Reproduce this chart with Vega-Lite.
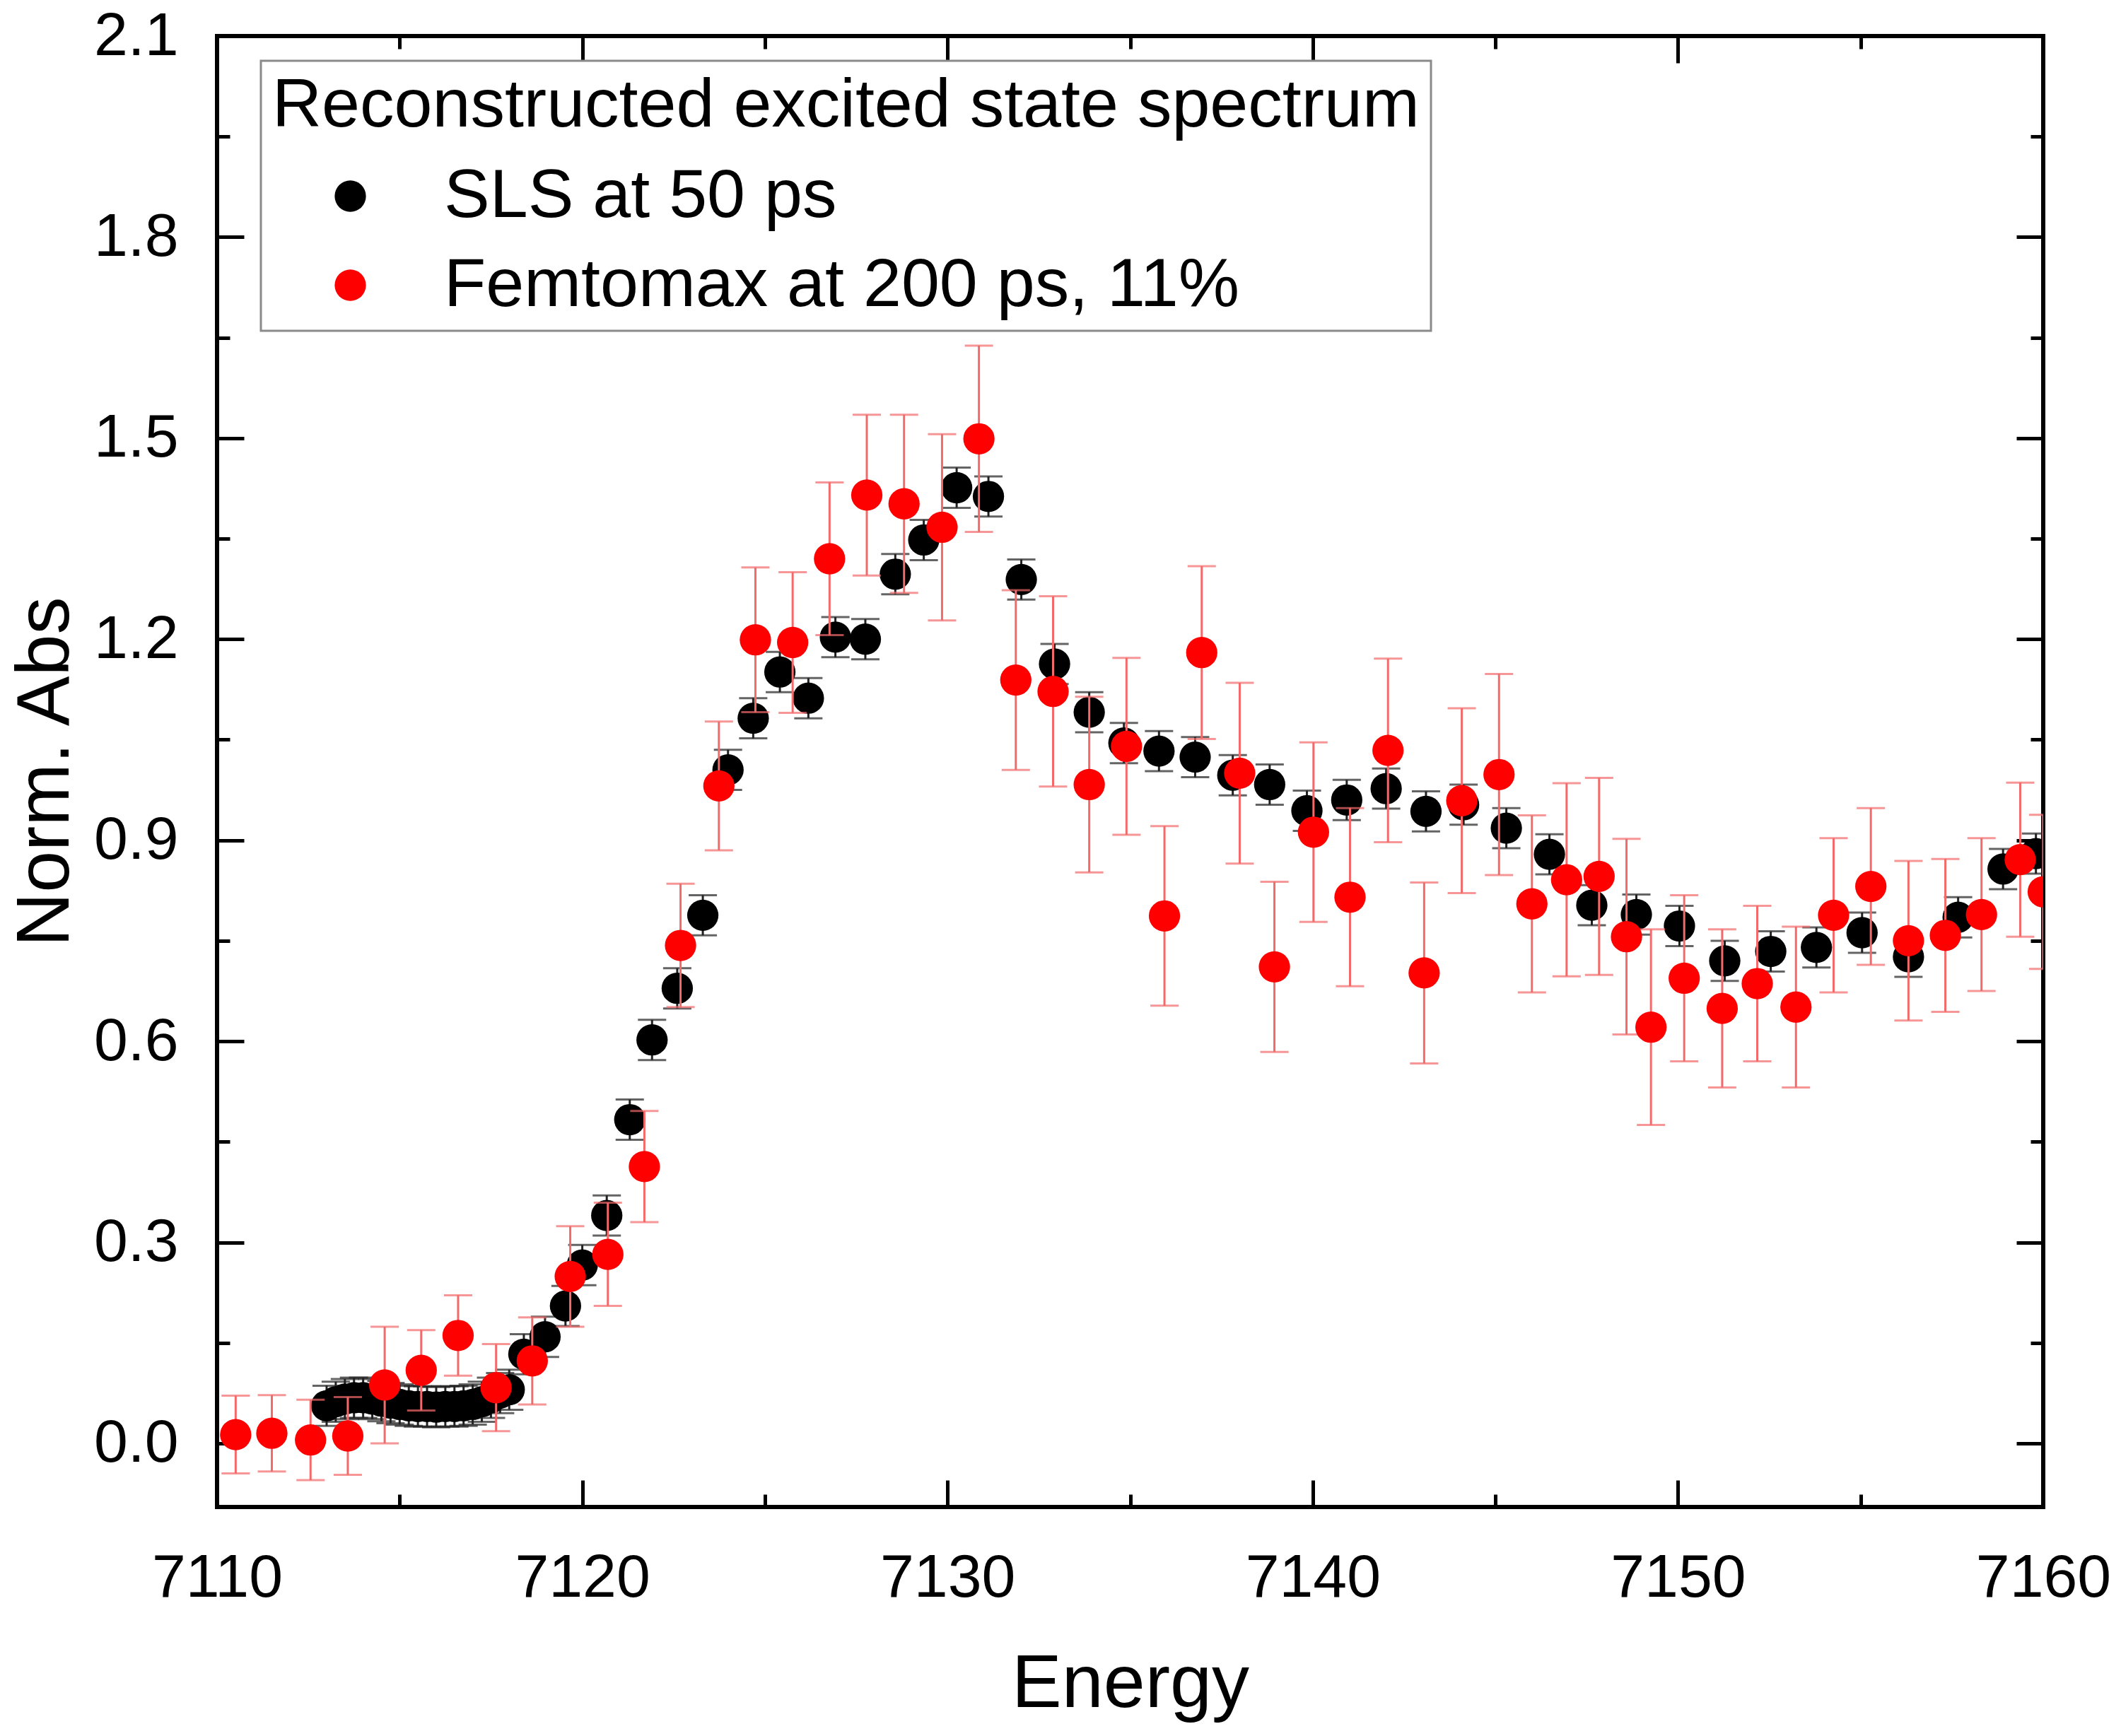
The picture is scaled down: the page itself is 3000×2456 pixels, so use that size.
{
  "$schema": "https://vega.github.io/schema/vega-lite/v6.json",
  "width": 2583,
  "height": 2081,
  "autosize": {"type": "none"},
  "padding": {"left": 307, "top": 51, "right": 110, "bottom": 324},
  "background": "white",
  "datasets": {
    "sls": [
      {"E": 7113.0, "A": 0.056, "lo": 0.026, "hi": 0.086},
      {"E": 7113.25, "A": 0.062, "lo": 0.032, "hi": 0.092},
      {"E": 7113.5, "A": 0.066, "lo": 0.036, "hi": 0.096},
      {"E": 7113.75, "A": 0.068, "lo": 0.038, "hi": 0.098},
      {"E": 7114.0, "A": 0.068, "lo": 0.038, "hi": 0.098},
      {"E": 7114.25, "A": 0.066, "lo": 0.036, "hi": 0.096},
      {"E": 7114.5, "A": 0.063, "lo": 0.033, "hi": 0.093},
      {"E": 7114.75, "A": 0.06, "lo": 0.03, "hi": 0.09},
      {"E": 7115.0, "A": 0.058, "lo": 0.028, "hi": 0.088},
      {"E": 7115.25, "A": 0.056, "lo": 0.026, "hi": 0.086},
      {"E": 7115.5, "A": 0.055, "lo": 0.025, "hi": 0.085},
      {"E": 7115.75, "A": 0.055, "lo": 0.025, "hi": 0.085},
      {"E": 7116.0, "A": 0.054, "lo": 0.024, "hi": 0.084},
      {"E": 7116.25, "A": 0.055, "lo": 0.025, "hi": 0.085},
      {"E": 7116.5, "A": 0.055, "lo": 0.025, "hi": 0.085},
      {"E": 7116.75, "A": 0.056, "lo": 0.026, "hi": 0.086},
      {"E": 7117.0, "A": 0.058, "lo": 0.028, "hi": 0.088},
      {"E": 7117.25, "A": 0.062, "lo": 0.032, "hi": 0.092},
      {"E": 7117.5, "A": 0.068, "lo": 0.038, "hi": 0.098},
      {"E": 7117.75, "A": 0.075, "lo": 0.045, "hi": 0.105},
      {"E": 7118.0, "A": 0.08, "lo": 0.05, "hi": 0.11},
      {"E": 7118.4, "A": 0.133, "lo": 0.103, "hi": 0.163},
      {"E": 7118.98, "A": 0.159, "lo": 0.129, "hi": 0.189},
      {"E": 7119.54, "A": 0.205, "lo": 0.175, "hi": 0.235},
      {"E": 7120.0, "A": 0.266, "lo": 0.236, "hi": 0.296},
      {"E": 7120.67, "A": 0.34, "lo": 0.31, "hi": 0.37},
      {"E": 7121.3, "A": 0.483, "lo": 0.453, "hi": 0.513},
      {"E": 7121.91, "A": 0.602, "lo": 0.572, "hi": 0.632},
      {"E": 7122.6, "A": 0.679, "lo": 0.649, "hi": 0.709},
      {"E": 7123.3, "A": 0.788, "lo": 0.758, "hi": 0.818},
      {"E": 7123.99, "A": 1.005, "lo": 0.975, "hi": 1.035},
      {"E": 7124.68, "A": 1.082, "lo": 1.052, "hi": 1.112},
      {"E": 7125.41, "A": 1.151, "lo": 1.121, "hi": 1.181},
      {"E": 7126.19, "A": 1.112, "lo": 1.082, "hi": 1.142},
      {"E": 7126.93, "A": 1.203, "lo": 1.173, "hi": 1.233},
      {"E": 7127.75, "A": 1.2, "lo": 1.17, "hi": 1.23},
      {"E": 7128.57, "A": 1.297, "lo": 1.267, "hi": 1.327},
      {"E": 7129.35, "A": 1.348, "lo": 1.318, "hi": 1.378},
      {"E": 7130.25, "A": 1.426, "lo": 1.396, "hi": 1.456},
      {"E": 7131.12, "A": 1.413, "lo": 1.383, "hi": 1.443},
      {"E": 7132.02, "A": 1.289, "lo": 1.259, "hi": 1.319},
      {"E": 7132.93, "A": 1.163, "lo": 1.133, "hi": 1.193},
      {"E": 7133.88, "A": 1.091, "lo": 1.061, "hi": 1.121},
      {"E": 7134.83, "A": 1.045, "lo": 1.015, "hi": 1.075},
      {"E": 7135.79, "A": 1.033, "lo": 1.003, "hi": 1.063},
      {"E": 7136.78, "A": 1.024, "lo": 0.994, "hi": 1.054},
      {"E": 7137.81, "A": 0.997, "lo": 0.967, "hi": 1.027},
      {"E": 7138.82, "A": 0.983, "lo": 0.953, "hi": 1.013},
      {"E": 7139.84, "A": 0.944, "lo": 0.914, "hi": 0.974},
      {"E": 7140.93, "A": 0.96, "lo": 0.93, "hi": 0.99},
      {"E": 7142.01, "A": 0.977, "lo": 0.947, "hi": 1.007},
      {"E": 7143.1, "A": 0.943, "lo": 0.913, "hi": 0.973},
      {"E": 7144.13, "A": 0.953, "lo": 0.923, "hi": 0.983},
      {"E": 7145.3, "A": 0.918, "lo": 0.888, "hi": 0.948},
      {"E": 7146.48, "A": 0.879, "lo": 0.849, "hi": 0.909},
      {"E": 7147.64, "A": 0.803, "lo": 0.773, "hi": 0.833},
      {"E": 7148.86, "A": 0.789, "lo": 0.759, "hi": 0.819},
      {"E": 7150.04, "A": 0.772, "lo": 0.742, "hi": 0.802},
      {"E": 7151.28, "A": 0.72, "lo": 0.69, "hi": 0.75},
      {"E": 7152.54, "A": 0.734, "lo": 0.704, "hi": 0.764},
      {"E": 7153.79, "A": 0.74, "lo": 0.71, "hi": 0.77},
      {"E": 7155.04, "A": 0.762, "lo": 0.732, "hi": 0.792},
      {"E": 7156.31, "A": 0.726, "lo": 0.696, "hi": 0.756},
      {"E": 7157.67, "A": 0.785, "lo": 0.755, "hi": 0.815},
      {"E": 7158.9, "A": 0.857, "lo": 0.827, "hi": 0.887},
      {"E": 7159.8, "A": 0.88, "lo": 0.85, "hi": 0.91}
    ],
    "femto": [
      {"E": 7110.51, "A": 0.013, "lo": -0.045, "hi": 0.071},
      {"E": 7111.5, "A": 0.015, "lo": -0.042, "hi": 0.072},
      {"E": 7112.56, "A": 0.005, "lo": -0.055, "hi": 0.065},
      {"E": 7113.58, "A": 0.011, "lo": -0.047, "hi": 0.069},
      {"E": 7114.59, "A": 0.087, "lo": 0.0, "hi": 0.174},
      {"E": 7115.59, "A": 0.109, "lo": 0.049, "hi": 0.169},
      {"E": 7116.6, "A": 0.161, "lo": 0.101, "hi": 0.221},
      {"E": 7117.64, "A": 0.083, "lo": 0.018, "hi": 0.148},
      {"E": 7118.63, "A": 0.123, "lo": 0.058, "hi": 0.188},
      {"E": 7119.67, "A": 0.249, "lo": 0.174, "hi": 0.324},
      {"E": 7120.7, "A": 0.282, "lo": 0.205, "hi": 0.359},
      {"E": 7121.7, "A": 0.413, "lo": 0.33, "hi": 0.496},
      {"E": 7122.69, "A": 0.743, "lo": 0.651, "hi": 0.835},
      {"E": 7123.74, "A": 0.981, "lo": 0.885, "hi": 1.077},
      {"E": 7124.74, "A": 1.199, "lo": 1.091, "hi": 1.307},
      {"E": 7125.76, "A": 1.195, "lo": 1.09, "hi": 1.3},
      {"E": 7126.77, "A": 1.32, "lo": 1.206, "hi": 1.434},
      {"E": 7127.79, "A": 1.415, "lo": 1.295, "hi": 1.535},
      {"E": 7128.81, "A": 1.402, "lo": 1.269, "hi": 1.535},
      {"E": 7129.85, "A": 1.367, "lo": 1.228, "hi": 1.506},
      {"E": 7130.86, "A": 1.499, "lo": 1.36, "hi": 1.638},
      {"E": 7131.87, "A": 1.139, "lo": 1.005, "hi": 1.273},
      {"E": 7132.89, "A": 1.122, "lo": 0.98, "hi": 1.264},
      {"E": 7133.88, "A": 0.983, "lo": 0.852, "hi": 1.114},
      {"E": 7134.9, "A": 1.04, "lo": 0.908, "hi": 1.172},
      {"E": 7135.94, "A": 0.787, "lo": 0.653, "hi": 0.921},
      {"E": 7136.96, "A": 1.18, "lo": 1.051, "hi": 1.309},
      {"E": 7138.0, "A": 1.0, "lo": 0.865, "hi": 1.135},
      {"E": 7138.95, "A": 0.711, "lo": 0.584, "hi": 0.838},
      {"E": 7140.02, "A": 0.912, "lo": 0.778, "hi": 1.046},
      {"E": 7141.02, "A": 0.815, "lo": 0.682, "hi": 0.948},
      {"E": 7142.06, "A": 1.034, "lo": 0.897, "hi": 1.171},
      {"E": 7143.05, "A": 0.702, "lo": 0.567, "hi": 0.837},
      {"E": 7144.08, "A": 0.959, "lo": 0.821, "hi": 1.097},
      {"E": 7145.1, "A": 0.998, "lo": 0.848, "hi": 1.148},
      {"E": 7146.0, "A": 0.805, "lo": 0.673, "hi": 0.937},
      {"E": 7146.95, "A": 0.841, "lo": 0.697, "hi": 0.985},
      {"E": 7147.84, "A": 0.846, "lo": 0.699, "hi": 0.993},
      {"E": 7148.59, "A": 0.756, "lo": 0.61, "hi": 0.902},
      {"E": 7149.26, "A": 0.621, "lo": 0.475, "hi": 0.767},
      {"E": 7150.17, "A": 0.694, "lo": 0.57, "hi": 0.818},
      {"E": 7151.21, "A": 0.649, "lo": 0.531, "hi": 0.767},
      {"E": 7152.17, "A": 0.686, "lo": 0.57, "hi": 0.802},
      {"E": 7153.23, "A": 0.651, "lo": 0.531, "hi": 0.771},
      {"E": 7154.26, "A": 0.788, "lo": 0.673, "hi": 0.903},
      {"E": 7155.28, "A": 0.831, "lo": 0.714, "hi": 0.948},
      {"E": 7156.31, "A": 0.75, "lo": 0.631, "hi": 0.869},
      {"E": 7157.32, "A": 0.758, "lo": 0.644, "hi": 0.872},
      {"E": 7158.31, "A": 0.789, "lo": 0.675, "hi": 0.903},
      {"E": 7159.37, "A": 0.871, "lo": 0.756, "hi": 0.986},
      {"E": 7160.0, "A": 0.823, "lo": 0.708, "hi": 0.938}
    ]
  },
  "layer": [
    {
      "data": {"name": "sls"},
      "mark": {"type": "rule", "color": "#222222", "strokeWidth": 3, "clip": true},
      "encoding": {
        "x": {
          "field": "E", "type": "quantitative",
          "scale": {"domain": [7110, 7160], "nice": false, "zero": false},
          "axis": {
            "orient": "bottom", "values": [7110, 7120, 7130, 7140, 7150, 7160],
            "format": "d", "ticks": false, "labelPadding": 58, "labelFlush": false,
            "labelOverlap": false, "labelLimit": 1000, "title": "Energy", "titlePadding": 55
          }
        },
        "y": {
          "field": "lo", "type": "quantitative",
          "scale": {"domain": [-0.095, 2.1], "nice": false, "zero": false},
          "axis": {
            "orient": "left", "values": [0, 0.3, 0.6, 0.9, 1.2, 1.5, 1.8, 2.1],
            "format": ".1f", "ticks": false, "labelPadding": 55, "labelFlush": false,
            "labelOverlap": false, "labelLimit": 1000, "title": "Norm. Abs", "titlePadding": 14
          }
        },
        "y2": {"field": "hi"}
      }
    },
    {
      "data": {"name": "sls"},
      "mark": {"type": "tick", "orient": "horizontal", "size": 40, "thickness": 3, "color": "#222222", "clip": true},
      "encoding": {
        "x": {
          "field": "E", "type": "quantitative",
          "axis": {"orient": "bottom", "values": [7110, 7120, 7130, 7140, 7150, 7160], "labels": false, "tickSize": -38, "title": null}
        },
        "y": {
          "field": "lo", "type": "quantitative",
          "axis": {"orient": "left", "values": [0, 0.3, 0.6, 0.9, 1.2, 1.5, 1.8, 2.1], "labels": false, "tickSize": -38, "title": null}
        }
      }
    },
    {
      "data": {"name": "sls"},
      "mark": {"type": "tick", "orient": "horizontal", "size": 40, "thickness": 3, "color": "#222222", "clip": true},
      "encoding": {
        "x": {
          "field": "E", "type": "quantitative",
          "axis": {"orient": "bottom", "values": [7115, 7125, 7135, 7145, 7155], "labels": false, "tickSize": -18, "title": null}
        },
        "y": {
          "field": "hi", "type": "quantitative",
          "axis": {"orient": "left", "values": [0.15, 0.45, 0.75, 1.05, 1.35, 1.65, 1.95], "labels": false, "tickSize": -18, "title": null}
        }
      }
    },
    {
      "data": {"name": "sls"},
      "mark": {"type": "circle", "size": 1960, "opacity": 1, "clip": true},
      "encoding": {
        "x": {
          "field": "E", "type": "quantitative",
          "axis": {"orient": "top", "values": [7110, 7120, 7130, 7140, 7150, 7160], "labels": false, "tickSize": -38, "title": null}
        },
        "y": {
          "field": "A", "type": "quantitative",
          "axis": {"orient": "right", "values": [0, 0.3, 0.6, 0.9, 1.2, 1.5, 1.8, 2.1], "labels": false, "tickSize": -38, "title": null}
        },
        "color": {
          "datum": "SLS at 50 ps", "type": "nominal",
          "scale": {"domain": ["SLS at 50 ps", "Femtomax at 200 ps, 11%"], "range": ["#000000", "#ff0000"]},
          "title": "Reconstructed excited state spectrum",
          "legend": {"orient": "none", "legendX": 62, "legendY": 35}
        }
      }
    },
    {
      "data": {"name": "femto"},
      "mark": {"type": "rule", "color": "#f26a6a", "strokeWidth": 3, "clip": true},
      "encoding": {
        "x": {
          "field": "E", "type": "quantitative",
          "axis": {"orient": "top", "values": [7115, 7125, 7135, 7145, 7155], "labels": false, "tickSize": -18, "title": null}
        },
        "y": {
          "field": "lo", "type": "quantitative",
          "axis": {"orient": "right", "values": [0.15, 0.45, 0.75, 1.05, 1.35, 1.65, 1.95], "labels": false, "tickSize": -18, "title": null}
        },
        "y2": {"field": "hi"}
      }
    },
    {
      "data": {"name": "femto"},
      "mark": {"type": "tick", "orient": "horizontal", "size": 40, "thickness": 3, "color": "#f26a6a", "clip": true},
      "encoding": {
        "x": {"field": "E", "type": "quantitative", "axis": null},
        "y": {"field": "lo", "type": "quantitative", "axis": null}
      }
    },
    {
      "data": {"name": "femto"},
      "mark": {"type": "tick", "orient": "horizontal", "size": 40, "thickness": 3, "color": "#f26a6a", "clip": true},
      "encoding": {
        "x": {"field": "E", "type": "quantitative", "axis": null},
        "y": {"field": "hi", "type": "quantitative", "axis": null}
      }
    },
    {
      "data": {"name": "femto"},
      "mark": {"type": "circle", "size": 1960, "opacity": 1, "clip": true},
      "encoding": {
        "x": {"field": "E", "type": "quantitative", "axis": null},
        "y": {"field": "A", "type": "quantitative", "axis": null},
        "color": {
          "datum": "Femtomax at 200 ps, 11%", "type": "nominal",
          "title": "Reconstructed excited state spectrum",
          "legend": {"orient": "none", "legendX": 62, "legendY": 35}
        }
      }
    }
  ],
  "resolve": {"axis": {"x": "independent", "y": "independent"}},
  "config": {
    "view": {"stroke": "black", "strokeWidth": 6},
    "axis": {
      "domain": false,
      "grid": false,
      "labelFont": "Liberation Sans",
      "titleFont": "Liberation Sans",
      "labelFontSize": 86,
      "titleFontSize": 106,
      "titleFontWeight": "normal",
      "labelColor": "black",
      "titleColor": "black",
      "tickColor": "black",
      "tickWidth": 5
    },
    "legend": {
      "titleFont": "Liberation Sans",
      "labelFont": "Liberation Sans",
      "titleFontSize": 97,
      "labelFontSize": 97,
      "titleFontWeight": "normal",
      "titleColor": "black",
      "labelColor": "black",
      "symbolType": "circle",
      "symbolSize": 1960,
      "symbolStrokeWidth": 0,
      "strokeColor": "#8a8a8a",
      "strokeWidth": 3,
      "fillColor": "white",
      "padding": 16,
      "rowPadding": 28,
      "titlePadding": 30,
      "symbolOffset": 62,
      "labelOffset": 84,
      "titleLimit": 3000,
      "labelLimit": 3000
    }
  }
}
